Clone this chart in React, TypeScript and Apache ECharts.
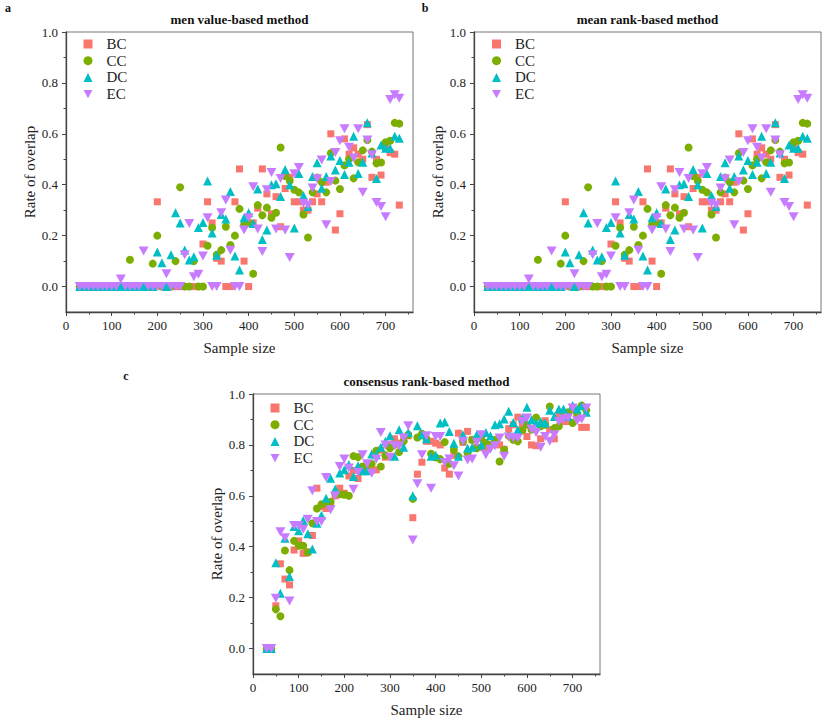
import React, { useEffect, useRef } from "react";
import * as echarts from "echarts";

const SAMPLE_SIZES = [
  30, 40, 50, 60, 70, 80, 90, 100, 110, 120,
  130, 140, 150, 160, 170, 180, 190, 200, 210, 220,
  230, 240, 250, 260, 270, 280, 290, 300, 310, 320,
  330, 340, 350, 360, 370, 380, 390, 400, 410, 420,
  430, 440, 450, 460, 470, 480, 490, 500, 510, 520,
  530, 540, 550, 560, 570, 580, 590, 600, 610, 620,
  630, 640, 650, 660, 670, 680, 690, 700, 710, 720,
  730,
];

const SERIES_NAMES = ["BC", "CC", "DC", "EC"];
const PANEL_TITLES = ["men value-based method", "mean rank-based method", "consensus rank-based method"];
const PANEL_LETTERS = ["a", "b", "c"];
const X_MAJOR_TICKS = [0, 100, 200, 300, 400, 500, 600, 700];
const X_MINOR_TICKS = [50, 150, 250, 350, 450, 550, 650, 750];
const Y_MAJOR_TICKS = [0, 0.2, 0.4, 0.6, 0.8, 1.0];
const Y_MINOR_TICKS = [0.1, 0.3, 0.5, 0.7, 0.9];

// value-based method (panel a)
const BC_VALUE = [
  0, 0, 0, 0, 0, 0, 0, 0, 0, 0,
  0, 0, 0, 0, 0, 0, 0, 0.333, 0, 0,
  0, 0, 0, 0, 0, 0, 0, 0.167, 0.333, 0.25,
  0.111, 0.1, 0, 0, 0.333, 0.462, 0.1, 0, 0.25, 0.308,
  0.462, 0.364, 0.286, 0.353, 0.235, 0.385, 0.429, 0.333, 0.333, 0.3,
  0.3, 0.333, 0.364, 0.333, 0.41, 0.6, 0.222, 0.286, 0.58, 0.52,
  0.545, 0.52, 0.5, 0.636, 0.429, 0.5, 0.438, 0.545, 0.526, 0.52,
  0.32,
];
const CC_VALUE = [
  0, 0, 0, 0, 0, 0, 0, 0, 0, 0,
  0, 0.105, 0, 0, 0, 0, 0.09, 0.2, 0, 0,
  0, 0.1, 0.39, 0, 0, 0.1, 0, 0, 0.16, 0.231,
  0.125, 0.143, 0.235, 0.163, 0.2, 0.305, 0.243, 0.25, 0.05, 0.32,
  0.28, 0.31, 0.27, 0.29, 0.546, 0.434, 0.415, 0.38, 0.37, 0.283,
  0.193, 0.37, 0.428, 0.41, 0.37, 0.524, 0.416, 0.383, 0.476, 0.5,
  0.425, 0.488, 0.535, 0.576, 0.53, 0.484, 0.487, 0.567, 0.573, 0.643,
  0.64,
];
const DC_VALUE = [
  0, 0, 0, 0, 0, 0, 0, 0, 0, 0,
  0, 0, 0, 0, 0, 0, 0, 0.136, 0.093, 0,
  0.125, 0.29, 0.25, 0.144, 0.104, 0.117, 0.232, 0.252, 0.415, 0.21,
  0.123, 0.283, 0.265, 0.373, 0.12, 0.065, 0.27, 0.29, 0.248, 0.383,
  0.185, 0.222, 0.4, 0.404, 0.354, 0.46, 0.4, 0.23, 0.444, 0.358,
  0.314, 0.432, 0.486, 0.386, 0.432, 0.513, 0.458, 0.495, 0.44, 0.488,
  0.59, 0.444, 0.488, 0.643, 0.525, 0.424, 0.556, 0.543, 0.543, 0.59,
  0.583,
];
const EC_VALUE = [
  0, 0, 0, 0, 0, 0, 0, 0, 0, 0.03,
  0, 0, 0, 0, 0.14, 0, 0, 0, 0, 0.05,
  0, 0, 0, 0.125, 0.248, 0.038, 0.048, 0.12, 0.27, 0,
  0, 0.29, 0.34, 0.143, 0, 0, 0.222, 0.27, 0.392, 0.226,
  0.138, 0.38, 0.448, 0.226, 0.424, 0.222, 0.114, 0.443, 0.468, 0.327,
  0.32, 0.387, 0.423, 0.497, 0.243, 0.413, 0.527, 0.573, 0.62, 0.547,
  0.505, 0.62, 0.37, 0.576, 0.518, 0.33, 0.314, 0.274, 0.735, 0.753,
  0.74,
];

// mean rank-based method (panel b) – reads the same as panel a
const BC_MEAN = BC_VALUE.slice();
const CC_MEAN = CC_VALUE.slice();
const DC_MEAN = DC_VALUE.slice();
const EC_MEAN = EC_VALUE.slice();

// consensus rank-based method (panel c)
const BC_CONS = [
  0, 0, 0.168, 0.333, 0.273, 0.25, 0.387, 0.423, 0.374, 0.38,
  0.444, 0.63, 0.558, 0.55, 0.57, 0.6, 0.63, 0.61, 0.678, 0.7,
  0.668, 0.71, 0.722, 0.702, 0.702, 0.78, 0.752, 0.8, 0.824, 0.807,
  0.824, 0.836, 0.514, 0.685, 0.732, 0.814, 0.814, 0.807, 0.8, 0.709,
  0.685, 0.759, 0.846, 0.81, 0.853, 0.82, 0.79, 0.79, 0.787, 0.8,
  0.814, 0.8, 0.783, 0.864, 0.879, 0.909, 0.879, 0.833, 0.8, 0.797,
  0.824, 0.895, 0.86, 0.824, 0.912, 0.892, 0.892, 0.938, 0.906, 0.869,
  0.869,
];
const CC_CONS = [
  0, 0, 0.154, 0.127, 0.385, 0.308, 0.423, 0.404, 0.404, 0.377,
  0.492, 0.55, 0.567, 0.571, 0.577, 0.61, 0.606, 0.604, 0.6, 0.756,
  0.752, 0.715, 0.698, 0.726, 0.777, 0.715, 0.759, 0.787, 0.8, 0.772,
  0.814, 0.84, 0.588, 0.829, 0.844, 0.824, 0.765, 0.751, 0.744, 0.811,
  0.726, 0.781, 0.755, 0.814, 0.768, 0.82, 0.787, 0.827, 0.807, 0.8,
  0.82, 0.735, 0.781, 0.836, 0.82, 0.814, 0.857, 0.879, 0.86, 0.908,
  0.873, 0.879, 0.951, 0.866, 0.873, 0.919, 0.928, 0.886, 0.921, 0.955,
  0.936,
];
const DC_CONS = [
  0, 0, 0.337, 0.217, 0.433, 0.283, 0.479, 0.463, 0.503, 0.451,
  0.391, 0.492, 0.524, 0.59, 0.669, 0.627, 0.69, 0.702, 0.723, 0.676,
  0.718, 0.698, 0.698, 0.764, 0.761, 0.791, 0.814, 0.836, 0.755, 0.86,
  0.791, 0.849, 0.6, 0.875, 0.84, 0.824, 0.755, 0.759, 0.886, 0.89,
  0.853, 0.807, 0.755, 0.84, 0.787, 0.791, 0.84, 0.8, 0.849, 0.836,
  0.879, 0.883, 0.902, 0.932, 0.888, 0.86, 0.906, 0.948, 0.899, 0.886,
  0.892, 0.886, 0.936, 0.912, 0.941, 0.941, 0.912, 0.955, 0.941, 0.954,
  0.928,
];
const EC_CONS = [
  0, 0, 0.198, 0.459, 0.435, 0.187, 0.483, 0.483, 0.469, 0.508,
  0.62, 0.499, 0.499, 0.672, 0.545, 0.6, 0.715, 0.745, 0.709, 0.626,
  0.693, 0.761, 0.726, 0.689, 0.745, 0.849, 0.8, 0.752, 0.797, 0.797,
  0.827, 0.875, 0.426, 0.647, 0.761, 0.836, 0.63, 0.833, 0.833, 0.731,
  0.745, 0.718, 0.678, 0.814, 0.741, 0.745, 0.81, 0.84, 0.761, 0.783,
  0.797, 0.827, 0.755, 0.831, 0.827, 0.827, 0.892, 0.906, 0.862, 0.849,
  0.791, 0.833, 0.814, 0.84, 0.892, 0.902, 0.906, 0.945, 0.895, 0.902,
  0.945,
];

const PANEL_DATA = [
  [BC_VALUE, CC_VALUE, DC_VALUE, EC_VALUE],
  [BC_MEAN, CC_MEAN, DC_MEAN, EC_MEAN],
  [BC_CONS, CC_CONS, DC_CONS, EC_CONS],
];

const COLORS = ["#F8766D", "#7CAE00", "#00BFC4", "#C77CFF"];
const SYMBOLS = ["rect", "circle", "triangle", "path://M0,0L10,0L5,9Z"];
const SYMBOL_SIZES = [7, 8, 9, [10, 9]];

const FONT = "Liberation Serif";

// layout of the three panels
const GRIDS = [
  { left: 66, top: 32, width: 347, height: 280 },
  { left: 474, top: 32, width: 347, height: 280 },
  { left: 253, top: 394, width: 347, height: 280 },
];
const LEGEND_POS = [
  [83.5, 36.5],
  [492, 36.5],
  [270.5, 400.5],
];
const LETTER_POS = [
  [8, 8],
  [425, 8],
  [126, 376],
];

export default function App() {
  const ref = useRef<HTMLDivElement>(null);

  useEffect(() => {
    if (!ref.current) return;
    const chart = echarts.init(ref.current, null, { renderer: "svg" });

    const xAxes: any[] = [];
    const yAxes: any[] = [];
    const series: any[] = [];
    const legends: any[] = [];
    const graphics: any[] = [];

    GRIDS.forEach((g, p) => {
      xAxes.push({
        type: "value",
        gridIndex: p,
        position: "bottom",
        min: 0,
        max: 760,
        name: "Sample size",
        nameLocation: "middle",
        nameGap: 28,
        nameTextStyle: { fontFamily: FONT, fontSize: 15, color: "#222" },
        axisLine: { show: true, onZero: false, lineStyle: { color: "#444", width: 1.3 } },
        axisTick: { show: true, inside: false, length: 4, customValues: X_MAJOR_TICKS, lineStyle: { color: "#444" } },
        axisLabel: { customValues: X_MAJOR_TICKS, fontFamily: FONT, fontSize: 13, color: "#222", margin: 7 },
        splitLine: { show: false },
      });
      xAxes.push({
        type: "value",
        gridIndex: p,
        position: "bottom",
        min: 0,
        max: 760,
        axisLine: { show: false, onZero: false },
        axisTick: { show: true, length: 2.5, customValues: X_MINOR_TICKS, lineStyle: { color: "#444" } },
        axisLabel: { show: false },
        splitLine: { show: false },
      });
      yAxes.push({
        type: "value",
        gridIndex: p,
        position: "left",
        min: -0.1,
        max: 1.0,
        name: "Rate of overlap",
        nameLocation: "middle",
        nameGap: 28,
        nameTextStyle: { fontFamily: FONT, fontSize: 15, color: "#222" },
        axisLine: { show: true, onZero: false, lineStyle: { color: "#444", width: 1.3 } },
        axisTick: { show: true, length: 4, customValues: Y_MAJOR_TICKS, lineStyle: { color: "#444" } },
        axisLabel: {
          customValues: Y_MAJOR_TICKS,
          fontFamily: FONT,
          fontSize: 13,
          color: "#222",
          margin: 8,
          formatter: (v: number) => v.toFixed(1),
        },
        splitLine: { show: false },
      });
      yAxes.push({
        type: "value",
        gridIndex: p,
        position: "left",
        min: -0.1,
        max: 1.0,
        axisLine: { show: false, onZero: false },
        axisTick: { show: true, length: 2.5, customValues: Y_MINOR_TICKS, lineStyle: { color: "#444" } },
        axisLabel: { show: false },
        splitLine: { show: false },
      });

      PANEL_DATA[p].forEach((vals, k) => {
        series.push({
          type: "scatter",
          name: SERIES_NAMES[k],
          xAxisIndex: p * 2,
          yAxisIndex: p * 2,
          symbol: SYMBOLS[k],
          symbolSize: SYMBOL_SIZES[k],
          itemStyle: { color: COLORS[k], opacity: 1 },
          data: SAMPLE_SIZES.map((s, i) => [s, vals[i]]),
        });
      });

      legends.push({
        orient: "vertical",
        left: LEGEND_POS[p][0],
        top: LEGEND_POS[p][1],
        padding: 0,
        itemWidth: 9,
        itemHeight: 9,
        itemGap: 1.7,
        selectedMode: false,
        data: SERIES_NAMES,
        textStyle: { fontFamily: FONT, fontSize: 15, color: "#222", padding: [0, 0, 0, 9] },
      });

      graphics.push({
        type: "text",
        x: g.left + g.width / 2,
        y: g.top - 13,
        style: {
          text: PANEL_TITLES[p],
          font: `bold 13px ${FONT}`,
          fill: "#111",
          textAlign: "center",
          textVerticalAlign: "middle",
        },
      });
      graphics.push({
        type: "text",
        x: LETTER_POS[p][0],
        y: LETTER_POS[p][1],
        style: {
          text: PANEL_LETTERS[p],
          font: `bold 12px ${FONT}`,
          fill: "#111",
          textAlign: "center",
          textVerticalAlign: "middle",
        },
      });
    });

    chart.setOption({
      animation: false,
      backgroundColor: "#ffffff",
      grid: GRIDS.map((g) => ({ ...g, show: true, borderColor: "#777", borderWidth: 1, backgroundColor: "transparent" })),
      xAxis: xAxes,
      yAxis: yAxes,
      legend: legends,
      series,
      graphic: graphics,
    });

    return () => chart.dispose();
  }, []);

  return (
    <div
      ref={ref}
      style={{ position: "absolute", left: 0, top: 0, width: 830, height: 726, background: "#fff" }}
    />
  );
}
